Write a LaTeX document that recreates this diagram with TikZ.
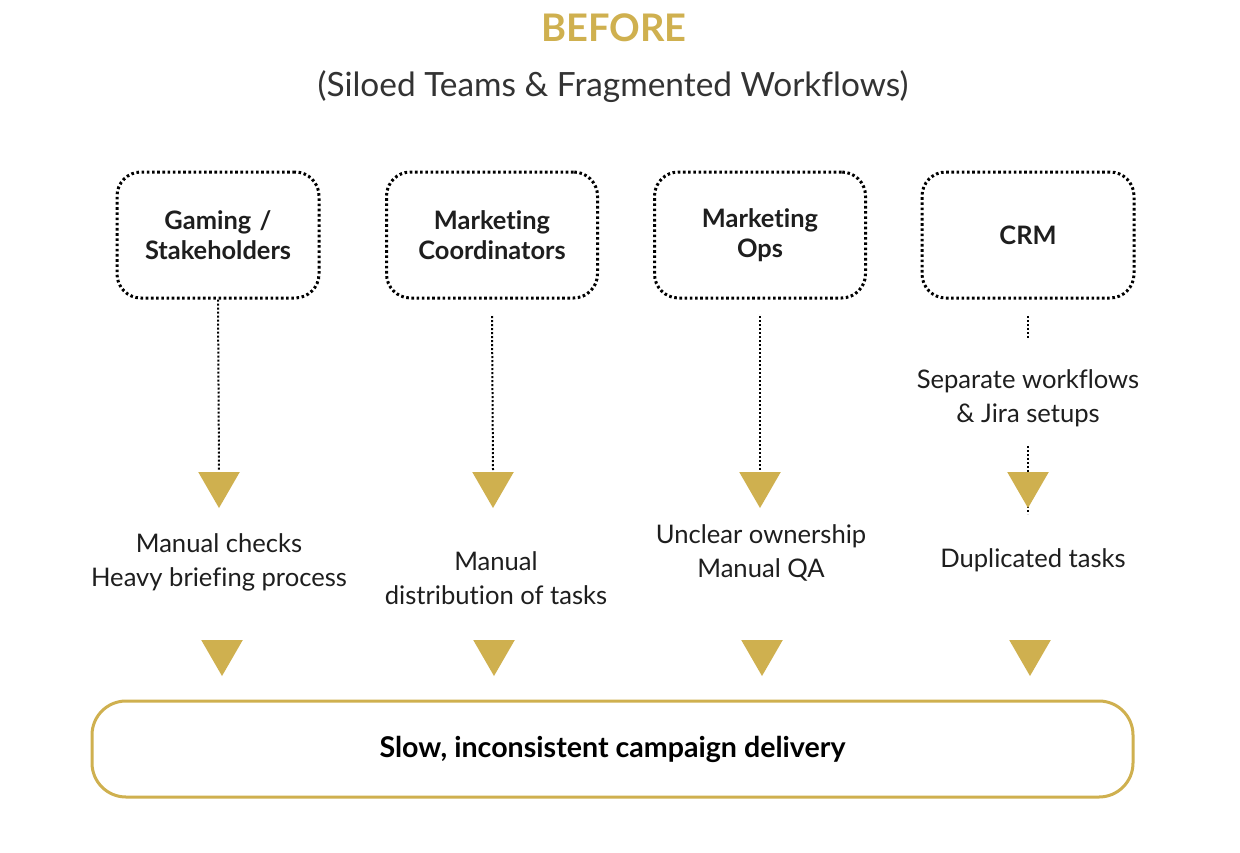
\documentclass[tikz,border=0pt]{standalone}
\usepackage{fontspec}
\setmainfont{Lato}[Ligatures=NoCommon]
\usetikzlibrary{shapes.geometric}
\definecolor{gold}{HTML}{CFB04F}
\definecolor{ink}{HTML}{1E1E1E}
\definecolor{subink}{HTML}{333333}
\begin{document}
\begin{tikzpicture}[x=1pt,y=-1pt,
  team/.style={draw=black,line width=3pt,dash pattern=on 2.6pt off 2.6pt,rounded corners=24pt,
    minimum height=126pt,text width=190pt,align=center,inner sep=0pt,
    font=\fontsize{25.4}{29.5}\selectfont\bfseries,text=ink},
  link/.style={draw=black,line width=2pt,dash pattern=on 2pt off 2pt},
  tri/.style={regular polygon,regular polygon sides=3,shape border rotate=180,fill=gold,
    minimum size=48pt,inner sep=0pt},
  issue/.style={align=center,font=\fontsize{25.6}{34}\selectfont,text=ink},
]
\useasboundingbox (0,0) rectangle (1240,852);
\fill[white] (0,0) rectangle (1240,852);

\node[text=gold,font=\fontsize{38}{42}\selectfont\bfseries] (title) at (614,28) {BEFORE};
\node[text=subink,font=\fontsize{33.4}{38}\selectfont] (sub) at (613,87) {(Siloed Teams \& Fragmented Workflows)};

\node[team,minimum width=202pt] (b1) at (218,235) {Gaming /\\Stakeholders};
\node[team,minimum width=211pt] (b2) at (492,235) {Marketing\\Coordinators};
\node[team,minimum width=211pt] (b3) at (760,235) {Marketing\\Ops};
\node[team,minimum width=212pt] (b4) at (1028,235) {CRM};

\coordinate (s2) at (492,316);
\coordinate (s3) at (760,316);
\coordinate (s4) at (1028,316);
\coordinate (e4a) at (1028,338);
\coordinate (s4b) at (1028,446);
\coordinate (e4b) at (1028,514);

% CRM middle text
\node[issue] (crm) at (1028,398) {Separate workflows\\\& Jira setups};

% connectors (drawn first, behind triangles)
\draw[link] (b1.south) -- (219,470);
\draw[link] (s2) -- (493,470);
\draw[link] (s3) -- (760,470);
\draw[link] (s4) -- (e4a);
\draw[link] (s4b) -- (e4b);

% first row triangles
\node[tri] (t1) at (219,484) {};
\node[tri] (t2) at (493,484) {};
\node[tri] (t3) at (760,484) {};
\node[tri] (t4) at (1028,484) {};

% issues
\node[issue] (i1) at (219,562) {Manual checks\\Heavy briefing process};
\node[issue] (i2) at (496,578) {Manual\\distribution of tasks};
\node[issue] (i3) at (761,553) {Unclear ownership\\Manual QA};
\node[issue] (i4) at (1033,560) {Duplicated tasks};

% second row triangles
\node[tri] (u1) at (222,652) {};
\node[tri] (u2) at (494,652) {};
\node[tri] (u3) at (762,652) {};
\node[tri] (u4) at (1030,652) {};

\node[draw=gold,line width=3pt,rounded corners=34pt,minimum width=1041pt,minimum height=96pt,
  font=\fontsize{28.6}{32}\selectfont\bfseries,text=black] (res) at (612.5,749) {Slow, inconsistent campaign delivery};
\end{tikzpicture}
\end{document}
